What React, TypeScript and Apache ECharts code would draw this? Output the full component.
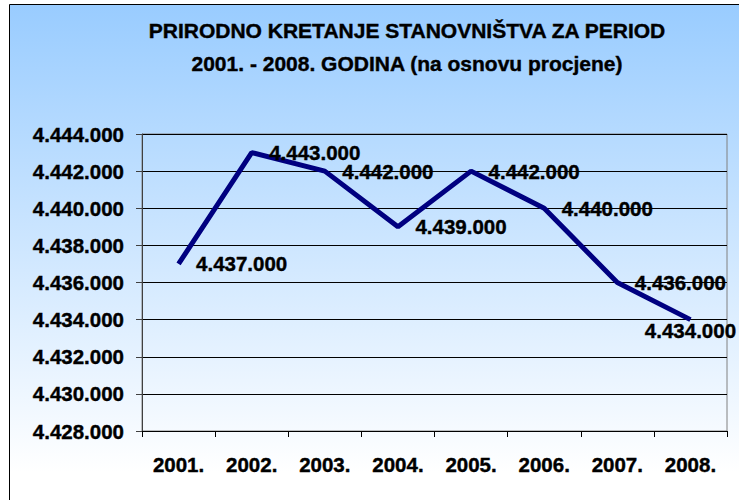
import React, { useEffect, useRef } from "react";
import * as echarts from "echarts";

const categories = ["2001.", "2002.", "2003.", "2004.", "2005.", "2006.", "2007.", "2008."];
const population = [4437000, 4443000, 4442000, 4439000, 4442000, 4440000, 4436000, 4434000];
const titleLines = ["PRIRODNO KRETANJE STANOVNIŠTVA ZA PERIOD", "2001. - 2008. GODINA (na osnovu procjene)"];
const yMin = 4428000;
const yMax = 4444000;
const yStep = 2000;

const FONT = "'Liberation Sans', Arial, sans-serif";

function fmt(v: number): string {
  return String(Math.round(v)).replace(/\B(?=(\d{3})+(?!\d))/g, ".");
}

export default function App() {
  const ref = useRef<HTMLDivElement>(null);
  useEffect(() => {
    if (!ref.current) return;
    const chart = echarts.init(ref.current, null, { renderer: "svg" });
    const data = population.map((v, i) =>
      i === population.length - 1
        ? { value: v, label: { position: "bottom", distance: 0 } }
        : v
    );
    const txt = {
      fontFamily: FONT,
      fontSize: 20.5,
      fontWeight: "bold",
      color: "#000000",
      textBorderColor: "#000000",
      textBorderWidth: 0.4,
    };
    chart.setOption({
      animation: false,
      backgroundColor: "#ffffff",
      graphic: [
        {
          type: "rect",
          z: -10,
          silent: true,
          shape: { x: 9.5, y: 4.5, width: 760, height: 520 },
          style: {
            fill: new echarts.graphic.LinearGradient(0, 0, 0, 1, [
              { offset: 0, color: "#99CCFF" },
              { offset: 0.9, color: "#FFFFFF" },
              { offset: 1, color: "#FFFFFF" },
            ]),
            stroke: "#000000",
            lineWidth: 1,
          },
        },
      ],
      title: {
        text: titleLines.join("\n"),
        left: 407,
        top: 14,
        textAlign: "center",
        padding: 0,
        textStyle: { ...txt, fontSize: 21, lineHeight: 33 },
      },
      grid: {
        left: 142,
        top: 134,
        right: 12,
        bottom: 69,
        show: true,
        borderColor: "#808080",
        borderWidth: 1,
        backgroundColor: "transparent",
      },
      xAxis: {
        type: "category",
        data: categories,
        boundaryGap: true,
        axisLine: { lineStyle: { color: "#000000", width: 1 } },
        axisTick: { show: true, length: 6, inside: false, alignWithLabel: false, lineStyle: { color: "#000000" } },
        axisLabel: { ...txt, margin: 23, interval: 0 },
        splitLine: { show: false },
      },
      yAxis: {
        type: "value",
        min: yMin,
        max: yMax,
        interval: yStep,
        axisLine: { show: true, lineStyle: { color: "#404040", width: 1 } },
        axisTick: { show: true, length: 6, lineStyle: { color: "#404040" } },
        axisLabel: { ...txt, margin: 18, formatter: (v: number) => fmt(v) },
        splitLine: { show: true, lineStyle: { color: "#000000", width: 1 } },
      },
      series: [
        {
          type: "line",
          data,
          symbol: "circle",
          symbolSize: 1,
          showSymbol: true,
          itemStyle: { color: "rgba(0,0,0,0)" },
          lineStyle: { color: "#000080", width: 5 },
          label: {
            show: true,
            position: "right",
            distance: 17,
            ...txt,
            formatter: (p: any) => fmt(p.value),
          },
          z: 5,
        },
      ],
    });
    return () => chart.dispose();
  }, []);
  return (
    <div
      ref={ref}
      style={{ position: "fixed", left: 0, top: 0, width: 739, height: 500 }}
    />
  );
}
